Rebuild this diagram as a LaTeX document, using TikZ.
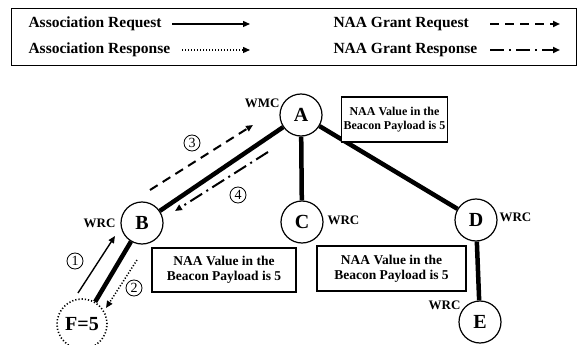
\documentclass[tikz,border=0pt]{standalone}
\usepackage{fontspec}
\setmainfont{Liberation Serif}
\usetikzlibrary{arrows.meta}
\begin{document}
\begin{tikzpicture}[x=1pt,y=-1pt,
  nd/.style={circle,draw,line width=1.2pt,minimum size=42pt,inner sep=0pt,fill=white,font=\fontsize{20}{20}\selectfont\bfseries},
  edge/.style={line width=4.5pt},
  info/.style={draw,line width=1.6pt,fill=white,align=center,inner sep=2pt,font=\fontsize{13.5}{15}\selectfont\bfseries},
  lbl/.style={font=\fontsize{13}{13}\selectfont\bfseries},
  num/.style={circle,draw,line width=0.8pt,inner sep=0pt,minimum size=16pt,font=\fontsize{14}{14}\selectfont},
  leg/.style={anchor=west,font=\fontsize{15.5}{16}\selectfont\bfseries},
  tip/.style={-{Triangle[length=7pt,width=6pt]}},
  dashln/.style={dash pattern=on 9pt off 6pt},
  dashdot/.style={dash pattern=on 14pt off 5pt on 2pt off 5pt},
  dotln/.style={dash pattern=on 1.2pt off 1.8pt}
]
\useasboundingbox (0,0) rectangle (579,345);
% legend
\node (legend) [draw,line width=1pt,anchor=north west,minimum width=565pt,minimum height=57pt] at (11,8) {};
\node (t1) [leg] at (25,24) {Association Request};
\node (t2) [leg] at (25,50) {Association Response};
\node (t3) [leg] at (330,24) {NAA Grant Request};
\node (t4) [leg] at (330,50) {NAA Grant Response};
\coordinate (a1s) at (172,24); \coordinate (a1e) at (250,24);
\coordinate (a2s) at (182,50); \coordinate (a2e) at (250,50);
\coordinate (a3s) at (490,24); \coordinate (a3e) at (560,24);
\coordinate (a4s) at (490,50); \coordinate (a4e) at (560,50);
\draw[tip,line width=1.3pt] (a1s) -- (a1e);
\draw[tip,line width=1.3pt,dotln] (a2s) -- (a2e);
\draw[tip,line width=2pt,dashln] (a3s) -- (a3e);
\draw[tip,line width=2pt,dashdot] (a4s) -- (a4e);
% nodes
\node[nd] (A) at (301,115) {A};
\node[nd] (B) at (142,223) {B};
\node[nd] (C) at (302,222) {C};
\node[nd] (D) at (476,220) {D};
\node[nd] (E) at (480,322) {E};
\node[nd,dotted,line width=1.6pt,minimum size=50pt] (F) at (82,324) {F=5};
% edges
\draw[edge] (A) -- (B);
\draw[edge] (A) -- (C);
\draw[edge] (A) -- (D);
\draw[edge] (B) -- (F);
\draw[edge] (D) -- (E);
% labels
\node[lbl,anchor=east] (wmc) at (283,103) {WMC};
\node[lbl,anchor=east] (wrcb) at (119,223) {WRC};
\node[lbl,anchor=west] (wrcc) at (324,220) {WRC};
\node[lbl,anchor=west] (wrcd) at (496,217) {WRC};
\node[lbl,anchor=east] (wrce) at (464,305) {WRC};
% info boxes
\node[info,minimum width=104pt,minimum height=45pt,font=\fontsize{12}{13.5}\selectfont\bfseries] (i1) at (394.5,119.5) {NAA Value in the\\Beacon Payload is 5};
\node[info,minimum width=144pt,minimum height=44pt] (i2) at (224,270) {NAA Value in the\\Beacon Payload is 5};
\node[info,minimum width=149pt,minimum height=45pt] (i3) at (391.5,268.5) {NAA Value in the\\Beacon Payload is 5};
% message arrows
\coordinate (m1s) at (78,293); \coordinate (m1e) at (115,236);
\coordinate (m2s) at (137,260); \coordinate (m2e) at (106,308);
\coordinate (m3s) at (150,190); \coordinate (m3e) at (253,125);
\coordinate (m4s) at (268,152); \coordinate (m4e) at (175,211);
\draw[tip,line width=1.4pt] (m1s) -- (m1e);
\draw[tip,line width=1.5pt,dotln] (m2s) -- (m2e);
\draw[tip,line width=2pt,dashln] (m3s) -- (m3e);
\draw[tip,line width=2pt,dashdot] (m4s) -- (m4e);
\node[num] (n1) at (75,261) {1};
\node[num] (n2) at (134,288) {2};
\node[num] (n3) at (192,143) {3};
\node[num] (n4) at (238,195) {4};
\end{tikzpicture}
\end{document}
